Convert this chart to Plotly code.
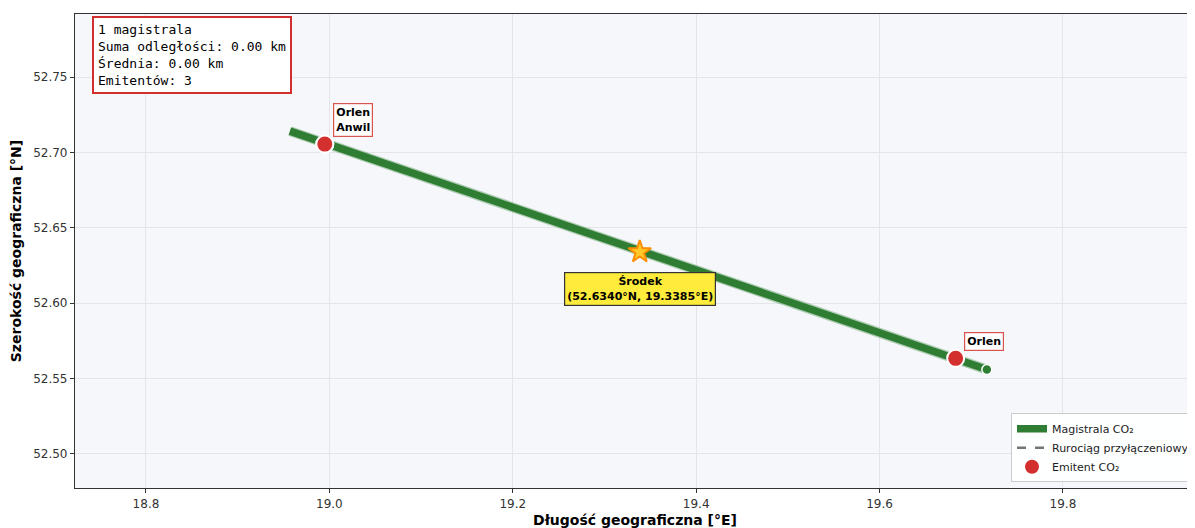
import plotly.graph_objects as go

# Data
pipe_lon = [18.957, 19.717]
pipe_lat = [52.7141, 52.5560]
emit_names = ["Orlen", "Anwil", "Orlen"]
emit_lon = [18.995, 18.995, 19.683]
emit_lat = [52.7055, 52.7055, 52.5634]
label_text = ["Orlen<br>Anwil", "Orlen"]
label_lon = [18.995, 19.683]
label_lat = [52.7055, 52.5634]
center_lat = 52.6340
center_lon = 19.3385
info_lines = ["1 magistrala", "Suma odległości: 0.00 km", "Średnia: 0.00 km", "Emitentów: 3"]

fig = go.Figure()

# halo
fig.add_trace(go.Scatter(x=pipe_lon, y=pipe_lat, mode="lines",
                         line=dict(color="rgba(46,125,50,0.35)", width=10),
                         showlegend=False, hoverinfo="skip"))
fig.add_trace(go.Scatter(x=pipe_lon, y=pipe_lat, mode="lines",
                         line=dict(color="#2e7d32", width=7.5),
                         name="Magistrala CO₂"))
fig.add_trace(go.Scatter(x=[pipe_lon[-1]], y=[pipe_lat[-1]], mode="markers",
                         marker=dict(color="#2e7d32", size=10, line=dict(color="white", width=1.5)),
                         showlegend=False, hoverinfo="skip"))
fig.add_trace(go.Scatter(x=[None], y=[None], mode="lines",
                         line=dict(color="#757575", width=2.5, dash="dash"),
                         name="Rurociąg przyłączeniowy"))
fig.add_trace(go.Scatter(x=emit_lon, y=emit_lat, mode="markers", text=emit_names,
                         marker=dict(color="#d32f2f", size=17, line=dict(color="white", width=2)),
                         name="Emitent CO₂"))
fig.add_trace(go.Scatter(x=[center_lon], y=[center_lat], mode="markers",
                         marker=dict(symbol="star", color="#ffca28", size=17,
                                     line=dict(color="#ff8f00", width=2)),
                         showlegend=False))

for t, lx, ly in zip(label_text, label_lon, label_lat):
    fig.add_annotation(x=lx, y=ly, text="<b>" + t + "</b>", showarrow=False,
                       xanchor="left", yanchor="bottom", xshift=8, yshift=7,
                       font=dict(family="DejaVu Sans", size=11, color="black"),
                       bgcolor="white", bordercolor="#d9534f", borderwidth=1.2, borderpad=2)

fig.add_annotation(x=center_lon, y=center_lat,
                   text="<b>Środek</b><br><b>(%.4f°N, %.4f°E)</b>" % (center_lat, center_lon),
                   showarrow=False, xanchor="center", yanchor="top", yshift=-20,
                   font=dict(family="DejaVu Sans", size=11, color="black"),
                   bgcolor="#ffeb3b", bordercolor="#333333", borderwidth=1.2, borderpad=2)

fig.add_annotation(xref="paper", yref="paper", x=0.0155, y=0.995, xanchor="left", yanchor="top",
                   text="<br>".join(info_lines), align="left", showarrow=False,
                   font=dict(family="DejaVu Sans Mono", size=13, color="black"),
                   bgcolor="white", bordercolor="#d32f2f", borderwidth=2, borderpad=4)

fig.update_layout(
    width=1187, height=520,
    margin=dict(l=67, r=0, t=6, b=40),
    paper_bgcolor="white", plot_bgcolor="#f5f7fa",
    font=dict(family="DejaVu Sans", size=12, color="#333333"),
    legend=dict(x=1.0, y=0.012, xanchor="right", yanchor="bottom",
                bgcolor="rgba(255,255,255,0.9)", bordercolor="#cccccc", borderwidth=1,
                font=dict(size=11, color="#222222"), tracegroupgap=0),
    showlegend=True,
)
fig.update_xaxes(range=[18.7226, 19.944], dtick=0.2, tickformat=".1f",
                 showgrid=True, gridcolor="#e3e5e8", zeroline=False,
                 showline=True, linecolor="#333333", linewidth=1.2, mirror=True,
                 ticks="outside", ticklen=4, tickcolor="#333333",
                 title=dict(text="<b>Długość geograficzna [°E]</b>", font=dict(size=14, color="black"), standoff=6))
fig.update_yaxes(range=[52.4774, 52.7918], dtick=0.05, tickformat=".2f",
                 showgrid=True, gridcolor="#e3e5e8", zeroline=False,
                 showline=True, linecolor="#333333", linewidth=1.2, mirror=False,
                 ticks="outside", ticklen=4, tickcolor="#333333",
                 title=dict(text="<b>Szerokość geograficzna [°N]</b>", font=dict(size=14, color="black"), standoff=8))

fig.write_html("out.html")
